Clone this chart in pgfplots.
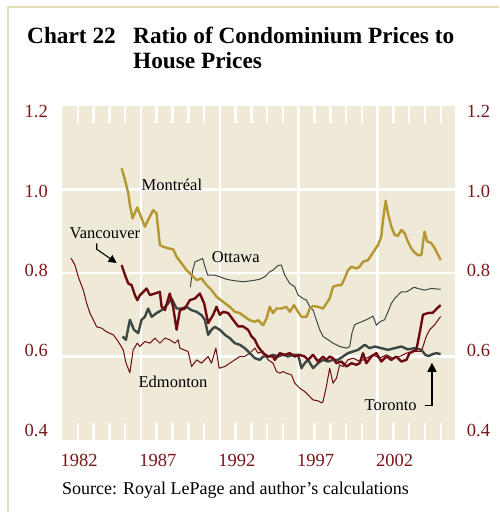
\documentclass[border=0pt]{standalone}
\usepackage{pgfplots}
\pgfplotsset{compat=1.18}
\usepackage{fontspec}
\setmainfont{Liberation Serif}
\usetikzlibrary{arrows.meta}
\definecolor{bgbeige}{HTML}{EEEAD7}
\definecolor{framebeige}{HTML}{E6DDB8}
\definecolor{gold}{HTML}{B5962F}
\definecolor{darkred}{HTML}{6F0B10}
\definecolor{darkgray}{HTML}{3D4845}
\definecolor{ticklab}{HTML}{7A1518}
\begin{document}
\begin{tikzpicture}
\path[use as bounding box] (0,-512pt) rectangle (499pt,0pt);
\draw[framebeige, line width=2pt] (8pt,-512pt) -- (8pt,-6.5pt) -- (499pt,-6.5pt);
% title
\node[anchor=base west, inner sep=0pt, font=\fontsize{23.3}{26}\selectfont\bfseries] at (27pt,-43pt) {Chart 22};
\node[anchor=base west, inner sep=0pt, font=\fontsize{23.3}{26}\selectfont\bfseries] at (133pt,-43pt) {Ratio of Condominium Prices to};
\node[anchor=base west, inner sep=0pt, font=\fontsize{23.3}{26}\selectfont\bfseries] at (133pt,-68pt) {House Prices};
\node[anchor=base west, inner sep=0pt, font=\fontsize{18}{20}\selectfont] at (62pt,-494pt) {Source: Royal LePage and author’s calculations};
% label axis (left + x)
\begin{axis}[at={(62pt,-440pt)}, anchor=south west, scale only axis, width=393pt, height=334pt,
  xmin=1982, xmax=2006.9, ymin=0.375, ymax=1.214,
  axis line style={draw=none}, major tick length=0pt,
  xtick={1982,1987,1992,1997,2002}, xticklabels={1982,1987,1992,1997,2002},
  ytick={0.4,0.6,0.8,1.0,1.2},
  yticklabels={0.4,0.6,0.8,1.0,1.2},
  tick label style={font=\fontsize{18.5}{20}\selectfont, text=ticklab, inner sep=0pt},
  xticklabel style={anchor=base, yshift=-26pt, xshift=17pt},
  yticklabel style={anchor=east, xshift=-14pt},
  xtick pos=bottom, ytick pos=left]
\addplot[draw=none] coordinates {(1990,0.8)};
\end{axis}
% right labels
\begin{axis}[at={(62pt,-440pt)}, anchor=south west, scale only axis, width=393pt, height=334pt,
  xmin=1982, xmax=2006.9, ymin=0.375, ymax=1.214,
  axis line style={draw=none}, major tick length=0pt,
  xtick=\empty,
  ytick={0.4,0.6,0.8,1.0,1.2},
  yticklabels={0.4,0.6,0.8,1.0,1.2},
  tick label style={font=\fontsize{18.5}{20}\selectfont, text=ticklab, inner sep=0pt},
  yticklabel style={anchor=west, xshift=11.7pt},
  ytick pos=right, yticklabel pos=right]
\addplot[draw=none] coordinates {(1990,0.8)};
\end{axis}
% data axis
\begin{axis}[at={(62pt,-440pt)}, anchor=south west, scale only axis, width=393pt, height=334pt,
  xmin=1982, xmax=2006.9, ymin=0.4, ymax=1.2,
  axis background/.style={fill=bgbeige},
  axis line style={draw=none},
  xtick={1987,1992,1997,2002}, xticklabels={},
  ytick={0.6,0.8,1.0}, yticklabels={},
  minor xtick={1983,1984,...,2006},
  grid=major, major grid style={white, line width=2.6pt},
  major tick length=0pt, minor tick length=17pt, tick align=inside,
  tick style={white, line width=2.5pt},
  xtick pos=both, ytick pos=left,
  every axis plot/.append style={line join=round}]
% Ottawa
\addplot[darkgray, line width=1pt] coordinates {
(1990.13,0.766)(1990.28,0.807)(1990.43,0.827)(1990.70,0.831)(1990.91,0.835)(1991.06,0.815)(1991.23,0.795)(1991.65,0.795)(1992.00,0.791)(1992.42,0.785)(1992.84,0.782)(1993.47,0.779)(1994.11,0.782)(1994.53,0.785)(1994.85,0.791)(1995.16,0.803)(1995.37,0.807)(1995.69,0.818)(1995.90,0.819)(1996.11,0.795)(1996.43,0.775)(1996.75,0.767)(1996.96,0.747)(1997.27,0.739)(1997.49,0.735)(1997.70,0.719)(1997.91,0.711)(1998.12,0.687)(1998.33,0.664)(1998.54,0.648)(1998.86,0.640)(1999.17,0.632)(1999.59,0.624)(2000.02,0.620)(2000.23,0.624)(2000.37,0.656)(2000.54,0.676)(2000.76,0.680)(2000.97,0.683)(2001.28,0.688)(2001.49,0.692)(2001.70,0.697)(2001.92,0.675)(2002.13,0.683)(2002.44,0.688)(2002.65,0.707)(2002.87,0.727)(2003.08,0.739)(2003.28,0.747)(2003.50,0.755)(2003.82,0.755)(2004.02,0.759)(2004.30,0.766)(2004.55,0.763)(2004.97,0.759)(2005.40,0.763)(2005.99,0.761)};
% Edmonton
\addplot[darkred, line width=1pt] coordinates {
(1982.57,0.836)(1982.82,0.819)(1983.03,0.791)(1983.35,0.759)(1983.56,0.728)(1983.77,0.704)(1983.98,0.688)(1984.20,0.671)(1984.51,0.668)(1984.83,0.659)(1985.25,0.652)(1985.56,0.636)(1985.88,0.616)(1986.05,0.585)(1986.30,0.561)(1986.51,0.616)(1986.77,0.632)(1986.94,0.624)(1987.25,0.636)(1987.57,0.632)(1987.89,0.644)(1988.20,0.632)(1988.52,0.644)(1988.83,0.640)(1989.15,0.632)(1989.36,0.640)(1989.47,0.620)(1989.99,0.612)(1990.21,0.576)(1990.53,0.592)(1990.84,0.584)(1991.26,0.600)(1991.47,0.584)(1991.75,0.620)(1991.96,0.572)(1992.32,0.576)(1992.63,0.584)(1992.95,0.592)(1993.27,0.600)(1993.58,0.600)(1993.90,0.608)(1994.22,0.620)(1994.42,0.608)(1994.74,0.612)(1995.06,0.592)(1995.37,0.584)(1995.59,0.564)(1995.80,0.560)(1996.01,0.564)(1996.22,0.560)(1996.54,0.556)(1996.75,0.536)(1997.06,0.524)(1997.38,0.516)(1997.70,0.504)(1997.91,0.496)(1998.22,0.494)(1998.44,0.489)(1998.54,0.492)(1998.75,0.528)(1998.96,0.572)(1999.17,0.536)(1999.39,0.548)(1999.59,0.580)(1999.80,0.576)(2000.12,0.592)(2000.44,0.596)(2000.86,0.588)(2001.28,0.596)(2001.70,0.604)(2002.13,0.596)(2002.55,0.604)(2002.97,0.596)(2003.39,0.600)(2003.82,0.608)(2004.23,0.612)(2004.55,0.612)(2004.77,0.612)(2005.08,0.648)(2005.29,0.664)(2005.61,0.676)(2005.99,0.696)};
% Montreal
\addplot[gold, line width=2.4pt] coordinates {
(1985.78,1.051)(1985.99,1.023)(1986.20,0.991)(1986.30,0.963)(1986.47,0.931)(1986.77,0.957)(1987.25,0.911)(1987.51,0.931)(1987.78,0.951)(1987.99,0.943)(1988.20,0.867)(1988.41,0.863)(1988.73,0.859)(1989.04,0.857)(1989.26,0.839)(1989.58,0.823)(1989.89,0.807)(1990.21,0.795)(1990.53,0.783)(1990.84,0.787)(1991.16,0.771)(1991.48,0.759)(1991.79,0.743)(1992.21,0.731)(1992.63,0.719)(1992.95,0.707)(1993.27,0.704)(1993.58,0.695)(1993.90,0.687)(1994.22,0.683)(1994.42,0.687)(1994.74,0.675)(1994.96,0.691)(1995.16,0.719)(1995.37,0.704)(1995.59,0.715)(1995.91,0.715)(1996.22,0.719)(1996.43,0.707)(1996.70,0.723)(1996.96,0.707)(1997.17,0.695)(1997.49,0.695)(1997.70,0.715)(1997.91,0.721)(1998.22,0.719)(1998.54,0.715)(1998.75,0.727)(1998.96,0.739)(1999.17,0.767)(1999.49,0.771)(1999.70,0.771)(1999.91,0.787)(2000.12,0.807)(2000.34,0.815)(2000.65,0.811)(2000.86,0.815)(2001.07,0.827)(2001.39,0.831)(2001.60,0.843)(2001.81,0.855)(2002.02,0.867)(2002.23,0.887)(2002.34,0.927)(2002.51,0.973)(2002.65,0.943)(2002.87,0.911)(2003.08,0.891)(2003.28,0.889)(2003.50,0.903)(2003.71,0.895)(2003.92,0.875)(2004.13,0.859)(2004.34,0.849)(2004.55,0.843)(2004.77,0.843)(2004.97,0.899)(2005.14,0.875)(2005.35,0.873)(2005.56,0.863)(2005.78,0.847)(2005.99,0.831)};
% Toronto
\addplot[darkgray, line width=2.4pt] coordinates {
(1985.84,0.648)(1986.05,0.640)(1986.30,0.688)(1986.56,0.664)(1986.83,0.656)(1987.04,0.688)(1987.25,0.695)(1987.46,0.715)(1987.68,0.695)(1987.99,0.704)(1988.31,0.711)(1988.73,0.727)(1988.94,0.739)(1989.26,0.715)(1989.58,0.715)(1989.89,0.719)(1990.21,0.711)(1990.53,0.707)(1990.84,0.699)(1991.05,0.688)(1991.26,0.652)(1991.47,0.664)(1991.68,0.671)(1992.00,0.664)(1992.32,0.652)(1992.63,0.644)(1992.95,0.632)(1993.27,0.628)(1993.58,0.620)(1993.79,0.612)(1994.01,0.604)(1994.22,0.596)(1994.53,0.592)(1994.74,0.600)(1995.06,0.600)(1995.37,0.604)(1995.69,0.600)(1996.01,0.604)(1996.32,0.600)(1996.64,0.604)(1996.96,0.604)(1997.17,0.572)(1997.38,0.584)(1997.59,0.592)(1997.91,0.572)(1998.22,0.584)(1998.54,0.592)(1998.86,0.588)(1999.17,0.592)(1999.49,0.592)(1999.80,0.600)(2000.12,0.608)(2000.44,0.612)(2000.76,0.616)(2001.18,0.628)(2001.49,0.620)(2001.81,0.624)(2002.23,0.620)(2002.65,0.616)(2003.08,0.620)(2003.50,0.624)(2003.92,0.617)(2004.34,0.620)(2004.77,0.616)(2005.02,0.604)(2005.23,0.601)(2005.50,0.606)(2005.72,0.608)(2005.99,0.606)};
% Vancouver
\addplot[darkred, line width=2.4pt] coordinates {
(1985.78,0.819)(1985.99,0.795)(1986.20,0.775)(1986.41,0.771)(1986.62,0.747)(1986.77,0.735)(1986.94,0.747)(1987.15,0.755)(1987.36,0.763)(1987.57,0.747)(1987.89,0.751)(1988.20,0.755)(1988.31,0.719)(1988.52,0.711)(1988.83,0.751)(1989.04,0.719)(1989.26,0.664)(1989.47,0.711)(1989.79,0.715)(1990.10,0.735)(1990.42,0.739)(1990.73,0.751)(1991.01,0.727)(1991.26,0.680)(1991.58,0.700)(1991.79,0.719)(1992.00,0.700)(1992.21,0.707)(1992.53,0.704)(1992.84,0.688)(1993.16,0.672)(1993.47,0.672)(1993.79,0.664)(1994.01,0.648)(1994.22,0.640)(1994.42,0.624)(1994.74,0.608)(1995.06,0.600)(1995.37,0.600)(1995.48,0.592)(1995.80,0.608)(1996.11,0.604)(1996.43,0.608)(1996.75,0.600)(1997.06,0.604)(1997.38,0.600)(1997.59,0.592)(1997.91,0.604)(1998.22,0.588)(1998.54,0.600)(1998.75,0.592)(1998.96,0.600)(1999.17,0.596)(1999.39,0.584)(1999.70,0.588)(2000.02,0.576)(2000.34,0.584)(2000.65,0.580)(2000.86,0.584)(2001.07,0.608)(2001.28,0.584)(2001.60,0.600)(2001.92,0.608)(2002.23,0.588)(2002.55,0.600)(2002.87,0.592)(2003.18,0.600)(2003.50,0.588)(2003.82,0.592)(2004.02,0.608)(2004.23,0.612)(2004.45,0.616)(2004.66,0.656)(2004.87,0.700)(2005.18,0.704)(2005.50,0.705)(2005.78,0.716)(2005.99,0.723)};
% annotations
\node[font=\fontsize{16.5}{18}\selectfont, inner sep=0pt] at (axis cs:1988.96,1.011) {Montréal};
\node[font=\fontsize{16.5}{18}\selectfont, inner sep=0pt] at (axis cs:1993.01,0.837) {Ottawa};
\node[font=\fontsize{16.5}{18}\selectfont, inner sep=0pt] at (axis cs:1984.72,0.896) {Vancouver};
\node[font=\fontsize{16.5}{18}\selectfont, inner sep=0pt] at (axis cs:1989.03,0.539) {Edmonton};
\node[font=\fontsize{16.5}{18}\selectfont, inner sep=0pt] at (axis cs:2002.82,0.484) {Toronto};
\draw[black, line width=1.1pt, -{Triangle[length=8pt,width=8pt]}] (axis cs:1984.20,0.871) -- (axis cs:1984.20,0.857) -- (axis cs:1985.46,0.824);
\draw[black, line width=1.3pt, -{Triangle[length=9pt,width=9pt]}] (axis cs:2004.97,0.482) -- (axis cs:2005.44,0.482) -- (axis cs:2005.44,0.585);
\end{axis}
\end{tikzpicture}
\end{document}
